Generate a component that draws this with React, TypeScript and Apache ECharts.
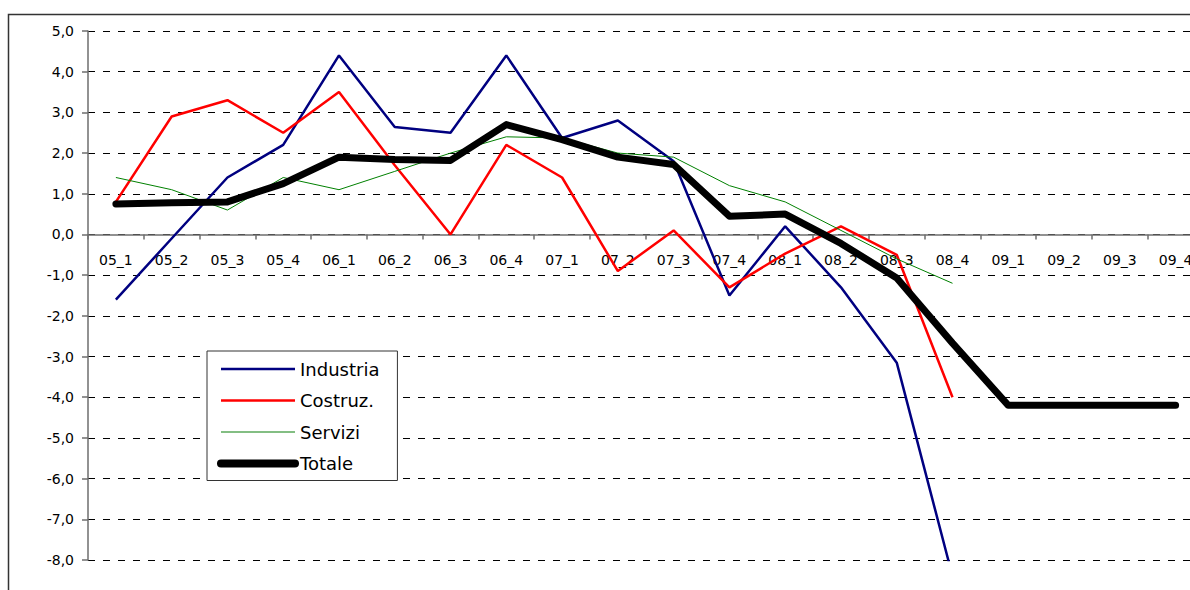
import React, { useEffect, useRef } from "react";
import * as echarts from "echarts";

const categories = [
  "05_1", "05_2", "05_3", "05_4",
  "06_1", "06_2", "06_3", "06_4",
  "07_1", "07_2", "07_3", "07_4",
  "08_1", "08_2", "08_3", "08_4",
  "09_1", "09_2", "09_3", "09_4",
];

const industria = [-1.6, -0.1, 1.4, 2.2, 4.4, 2.64, 2.5, 4.4, 2.37, 2.8, 1.8, -1.5, 0.2, -1.3, -3.15, -8.4, null, null, null, null];
const costruz = [0.8, 2.9, 3.3, 2.5, 3.5, 1.7, 0.0, 2.2, 1.4, -0.9, 0.1, -1.3, -0.47, 0.2, -0.5, -4.0, null, null, null, null];
const servizi = [1.4, 1.1, 0.6, 1.4, 1.1, 1.55, 2.0, 2.4, 2.37, 2.0, 1.9, 1.2, 0.8, 0.1, -0.6, -1.2, null, null, null, null];
const totale = [0.75, 0.78, 0.8, 1.25, 1.9, 1.84, 1.82, 2.7, 2.33, 1.9, 1.72, 0.45, 0.5, -0.22, -1.07, -2.67, -4.2, -4.2, -4.2, -4.2];

const seriesNames = ["Industria", "Costruz.", "Servizi", "Totale"];

const Y_MIN = -8;
const Y_MAX = 5;

const FONT = "DejaVu Sans";

const GRID_TOP = 31;
const GRID_BOTTOM = 30;
const CHART_W = 1210; // the plot runs a little past the visible 1190px, as in the reference
const CHART_H = 590;

export default function App() {
  const ref = useRef<HTMLDivElement>(null);

  useEffect(() => {
    if (!ref.current) return;
    const chart = echarts.init(ref.current, undefined, { renderer: "svg" });
    const plotH = CHART_H - GRID_TOP - GRID_BOTTOM;
    // distance from the bottom of the plot up to the value 0
    const zeroLift = (plotH * (0 - Y_MIN)) / (Y_MAX - Y_MIN);
    const hiddenSymbol = { color: "rgba(0,0,0,0)", opacity: 0, borderWidth: 0 };
    chart.setOption({
      animation: false,
      backgroundColor: "#ffffff",
      textStyle: { fontFamily: FONT },
      grid: { left: 88, right: 6.5, top: GRID_TOP, bottom: GRID_BOTTOM, containLabel: false, outerBoundsMode: "none" },
      graphic: [
        {
          type: "rect",
          z: -1,
          silent: true,
          shape: { x: 8.5, y: 14.5, width: 1200, height: 600 },
          style: { fill: "none", stroke: "#333333", lineWidth: 1.5 },
        },
      ],
      legend: {
        orient: "vertical",
        left: 207,
        top: 351,
        padding: [9, 18, 8, 10],
        itemWidth: 74,
        itemHeight: 16,
        itemGap: 13.5,
        borderColor: "#333333",
        borderWidth: 1,
        backgroundColor: "#ffffff",
        textStyle: { fontFamily: FONT, fontSize: 18, color: "#000000" },
        data: [
          { name: seriesNames[0], lineStyle: { width: 2.5 }, itemStyle: hiddenSymbol },
          { name: seriesNames[1], lineStyle: { width: 2.5 }, itemStyle: hiddenSymbol },
          { name: seriesNames[2], lineStyle: { width: 1.5, color: "#5aa85a" }, itemStyle: hiddenSymbol },
          { name: seriesNames[3], lineStyle: { width: 8, cap: "round" }, itemStyle: hiddenSymbol },
        ],
      },
      xAxis: {
        type: "category",
        data: categories,
        boundaryGap: true,
        offset: -zeroLift,
        axisLine: { show: true, onZero: false, lineStyle: { color: "#6e6e6e", width: 1.5 } },
        axisTick: { show: true, length: 5, lineStyle: { color: "#6e6e6e", width: 1.5 } },
        axisLabel: { interval: 0, margin: 19, color: "#000000", fontSize: 14, fontFamily: FONT },
        splitLine: { show: false },
      },
      yAxis: {
        type: "value",
        min: Y_MIN,
        max: Y_MAX,
        interval: 1,
        axisLine: { show: true, lineStyle: { color: "#6e6e6e", width: 1.5 } },
        axisTick: { show: true, length: 6, lineStyle: { color: "#6e6e6e", width: 1.5 } },
        axisLabel: {
          margin: 14,
          color: "#000000",
          fontSize: 14,
          fontFamily: FONT,
          formatter: (v: number) => v.toFixed(1).replace(".", ","),
        },
        splitLine: { show: true, lineStyle: { color: "#000000", width: 1, type: [7, 8] } },
      },
      series: [
        {
          name: seriesNames[0],
          type: "line",
          data: industria,
          symbol: "none",
          clip: true,
          lineStyle: { color: "#000080", width: 2.5 },
          itemStyle: { color: "#000080" },
          z: 2,
        },
        {
          name: seriesNames[1],
          type: "line",
          data: costruz,
          symbol: "none",
          clip: true,
          lineStyle: { color: "#ff0000", width: 2.5 },
          itemStyle: { color: "#ff0000" },
          z: 2,
        },
        {
          name: seriesNames[2],
          type: "line",
          data: servizi,
          symbol: "none",
          clip: true,
          lineStyle: { color: "#008000", width: 1 },
          itemStyle: { color: "#008000" },
          z: 2,
        },
        {
          name: seriesNames[3],
          type: "line",
          data: totale,
          symbol: "none",
          clip: true,
          lineStyle: { color: "#000000", width: 7, cap: "round", join: "round" },
          itemStyle: { color: "#000000" },
          z: 3,
        },
      ],
    });
    return () => chart.dispose();
  }, []);

  return (
    <div
      style={{ position: "absolute", left: 0, top: 0, width: 1190, height: CHART_H, overflow: "hidden" }}
    >
      <div ref={ref} style={{ width: CHART_W, height: CHART_H }} />
    </div>
  );
}
